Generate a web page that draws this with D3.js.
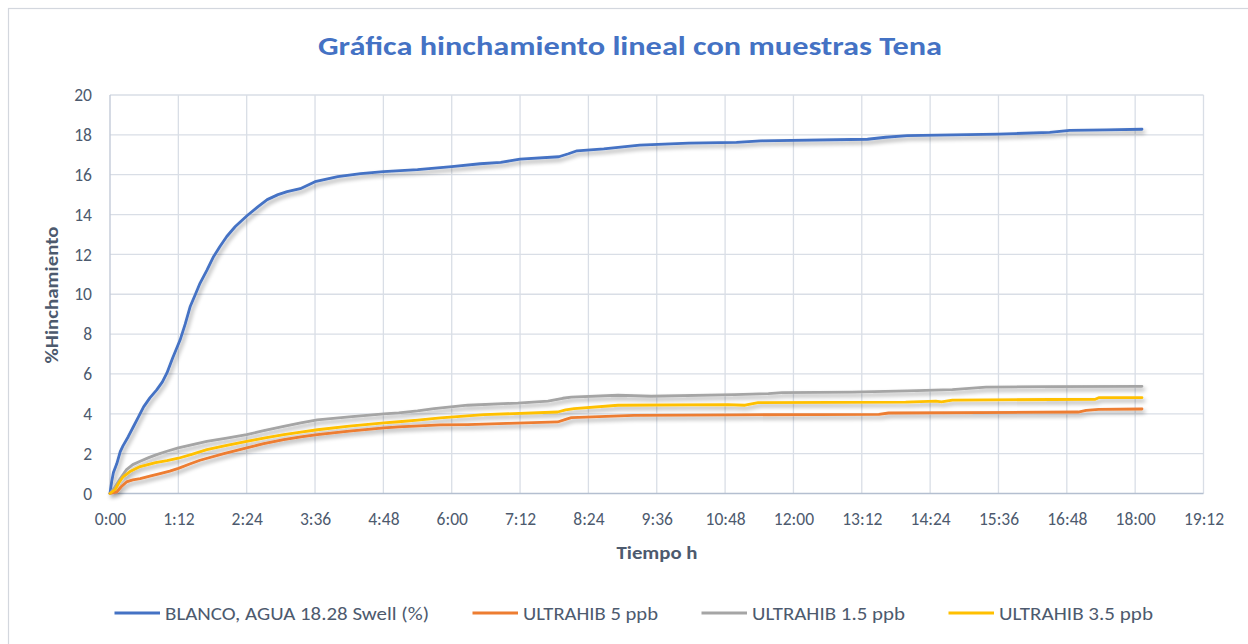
<!DOCTYPE html>
<html>
<head>
<meta charset="utf-8">
<script src="https://cdn.jsdelivr.net/npm/d3@7"></script>
<style>
  html, body { margin: 0; padding: 0; background: #fff; }
  svg { display: block; font-family: Carlito, Lato, "Open Sans", sans-serif; }
</style>
</head>
<body>
<svg id="chart" width="1248" height="644"></svg>
<script>
// Swelling test, Tena samples: elapsed hours vs. linear swell (%)
const seriesNames = ["BLANCO, AGUA 18.28 Swell (%)", "ULTRAHIB 5 ppb", "ULTRAHIB 1.5 ppb", "ULTRAHIB 3.5 ppb"];
const seriesColors = ["#4472C4", "#ED7D31", "#A5A5A5", "#FFC000"];

const hoursBlanco = [0, 0.03, 0.06, 0.12, 0.18, 0.23, 0.32, 0.41, 0.5, 0.59, 0.7, 0.82, 0.92, 1.0, 1.1, 1.23, 1.32, 1.41, 1.5, 1.58, 1.7, 1.82, 1.93, 2.05, 2.2, 2.41, 2.6, 2.76, 2.95, 3.11, 3.34, 3.6, 4.0, 4.4, 4.8, 5.4, 6.0, 6.5, 6.86, 7.2, 7.88, 8.05, 8.2, 8.67, 9.3, 10.16, 11.0, 11.42, 13.3, 13.62, 14.0, 15.59, 16.5, 16.85, 17.5, 18.12];
const swellBlanco = [0, 0.6, 1.05, 1.5, 2.1, 2.4, 2.85, 3.35, 3.85, 4.35, 4.8, 5.2, 5.6, 6.05, 6.8, 7.7, 8.5, 9.4, 10.0, 10.55, 11.2, 11.9, 12.4, 12.9, 13.4, 13.95, 14.4, 14.75, 15.0, 15.15, 15.3, 15.65, 15.9, 16.05, 16.15, 16.25, 16.4, 16.55, 16.62, 16.78, 16.9, 17.05, 17.2, 17.3, 17.48, 17.58, 17.62, 17.7, 17.78, 17.88, 17.96, 18.04, 18.12, 18.22, 18.25, 18.28];

const hours5ppb = [0, 0.12, 0.2, 0.29, 0.4, 0.53, 0.7, 0.88, 1.05, 1.2, 1.4, 1.58, 2.0, 2.4, 2.7, 3.05, 3.35, 3.64, 4.2, 4.81, 5.07, 5.8, 6.28, 7.86, 8.0, 8.1, 9.2, 11.0, 13.5, 13.67, 17.0, 17.14, 17.36, 18.12];
const swell5ppb = [0, 0.08, 0.35, 0.58, 0.68, 0.75, 0.87, 1.0, 1.12, 1.26, 1.48, 1.67, 2.0, 2.29, 2.5, 2.7, 2.84, 2.96, 3.13, 3.29, 3.34, 3.44, 3.46, 3.59, 3.72, 3.81, 3.92, 3.95, 3.97, 4.04, 4.09, 4.17, 4.22, 4.24];

const hours15ppb = [0, 0.08, 0.18, 0.29, 0.4, 0.53, 0.68, 0.82, 1.0, 1.2, 1.45, 1.7, 2.05, 2.4, 2.7, 3.05, 3.35, 3.64, 4.2, 4.81, 5.07, 5.4, 5.69, 6.28, 7.16, 7.69, 7.95, 8.1, 8.92, 9.5, 10.97, 11.56, 11.8, 13.03, 14.0, 14.79, 15.38, 16.5, 18.12];
const swell15ppb = [0, 0.3, 0.75, 1.2, 1.45, 1.62, 1.8, 1.95, 2.12, 2.29, 2.45, 2.62, 2.78, 2.96, 3.15, 3.37, 3.55, 3.7, 3.85, 4.0, 4.05, 4.15, 4.26, 4.43, 4.54, 4.64, 4.78, 4.84, 4.93, 4.88, 4.96, 5.01, 5.06, 5.09, 5.15, 5.21, 5.34, 5.36, 5.38];

const hours35ppb = [0, 0.09, 0.16, 0.23, 0.35, 0.53, 0.8, 1.0, 1.2, 1.45, 1.7, 2.05, 2.4, 2.7, 3.05, 3.35, 3.64, 4.2, 4.81, 5.07, 5.4, 5.8, 6.57, 7.86, 8.0, 8.15, 8.92, 10.85, 11.15, 11.38, 13.97, 14.5, 14.6, 14.79, 17.3, 17.36, 18.12];
const swell35ppb = [0, 0.2, 0.55, 0.84, 1.1, 1.35, 1.55, 1.65, 1.77, 1.98, 2.2, 2.42, 2.62, 2.78, 2.96, 3.08, 3.2, 3.38, 3.54, 3.6, 3.68, 3.8, 3.96, 4.09, 4.2, 4.26, 4.43, 4.46, 4.43, 4.56, 4.59, 4.64, 4.6, 4.69, 4.73, 4.81, 4.81];

const xTickHours = [0, 1.2, 2.4, 3.6, 4.8, 6.0, 7.2, 8.4, 9.6, 10.8, 12.0, 13.2, 14.4, 15.6, 16.8, 18.0, 19.2];
const xTickLabels = ["0:00", "1:12", "2:24", "3:36", "4:48", "6:00", "7:12", "8:24", "9:36", "10:48", "12:00", "13:12", "14:24", "15:36", "16:48", "18:00", "19:12"];
const yTicks = [0, 2, 4, 6, 8, 10, 12, 14, 16, 18, 20];

const titleText = "Gráfica hinchamiento lineal con muestras Tena";
const xTitle = "Tiempo h";
const yTitle = "%Hinchamiento";

// ---- drawing ----
const svg = d3.select("#chart");
const W = 1248, H = 644;
const plot = { left: 110, right: 1203.5, top: 95, bottom: 493.5 };
const textColor = "#4D5A6E";

const series = [
  { name: seriesNames[0], color: seriesColors[0], xs: hoursBlanco, ys: swellBlanco },
  { name: seriesNames[1], color: seriesColors[1], xs: hours5ppb, ys: swell5ppb },
  { name: seriesNames[2], color: seriesColors[2], xs: hours15ppb, ys: swell15ppb },
  { name: seriesNames[3], color: seriesColors[3], xs: hours35ppb, ys: swell35ppb }
];

const x = d3.scaleLinear().domain([0, 19.2]).range([plot.left, plot.right]);
const y = d3.scaleLinear().domain([0, 20]).range([plot.bottom, plot.top]);

// soft drop shadow under the data lines
const defs = svg.append("defs");
const f = defs.append("filter").attr("id", "lineShadow")
  .attr("x", "-5%").attr("y", "-20%").attr("width", "110%").attr("height", "140%");
f.append("feGaussianBlur").attr("in", "SourceAlpha").attr("stdDeviation", 2).attr("result", "blur");
f.append("feOffset").attr("in", "blur").attr("dx", 1.5).attr("dy", 3).attr("result", "off");
f.append("feComponentTransfer").attr("in", "off").attr("result", "shadow")
  .append("feFuncA").attr("type", "linear").attr("slope", 0.35);
const merge = f.append("feMerge");
merge.append("feMergeNode").attr("in", "shadow");
merge.append("feMergeNode").attr("in", "SourceGraphic");

// chart frame
svg.append("rect")
  .attr("x", 8.5).attr("y", 8.5).attr("width", W).attr("height", H)
  .attr("fill", "#fff").attr("stroke", "#D3D7DE").attr("stroke-width", 1.2);

// title
svg.append("text")
  .attr("x", 318).attr("y", 55)
  .attr("textLength", 624).attr("lengthAdjust", "spacingAndGlyphs")
  .attr("font-size", 27).attr("font-weight", "bold").attr("fill", "#4472C4")
  .text(titleText);

// horizontal gridlines
svg.append("g").selectAll("line").data(yTicks.filter(d => d > 0)).join("line")
  .attr("x1", plot.left).attr("x2", plot.right)
  .attr("y1", d => y(d)).attr("y2", d => y(d))
  .attr("stroke", "#D9DEE6").attr("stroke-width", 1.3);

// vertical gridlines
svg.append("g").selectAll("line").data(xTickHours.filter(d => d > 0)).join("line")
  .attr("x1", d => x(d)).attr("x2", d => x(d))
  .attr("y1", plot.top).attr("y2", plot.bottom)
  .attr("stroke", "#D9DEE6").attr("stroke-width", 1.3);

// axes lines
svg.append("line").attr("x1", plot.left).attr("x2", plot.left)
  .attr("y1", plot.top).attr("y2", plot.bottom)
  .attr("stroke", "#C3CBD8").attr("stroke-width", 1.4);
svg.append("line").attr("x1", plot.left).attr("x2", plot.right)
  .attr("y1", plot.bottom).attr("y2", plot.bottom)
  .attr("stroke", "#B4BFD0").attr("stroke-width", 1.6);

// y tick labels
const yAxis = d3.axisLeft(y).tickValues(yTicks).tickSize(0).tickPadding(18);
const gy = svg.append("g").attr("transform", `translate(${plot.left},0)`).call(yAxis);
gy.select(".domain").remove();
gy.selectAll("text").attr("font-size", 17.5).attr("fill", textColor)
  .attr("font-family", "Carlito, Lato, sans-serif");

// x tick labels
const xAxis = d3.axisBottom(x).tickValues(xTickHours)
  .tickFormat((d, i) => xTickLabels[i]).tickSize(0).tickPadding(19);
const gx = svg.append("g").attr("transform", `translate(0,${plot.bottom})`).call(xAxis);
gx.select(".domain").remove();
gx.selectAll("text").attr("font-size", 17.5).attr("fill", textColor)
  .attr("font-family", "Carlito, Lato, sans-serif");

// axis titles
svg.append("text")
  .attr("x", 657).attr("y", 559).attr("text-anchor", "middle")
  .attr("textLength", 81).attr("lengthAdjust", "spacingAndGlyphs")
  .attr("font-size", 18).attr("font-weight", "bold").attr("fill", textColor)
  .text(xTitle);
svg.append("text")
  .attr("transform", "translate(58,295) rotate(-90)")
  .attr("text-anchor", "middle")
  .attr("textLength", 137).attr("lengthAdjust", "spacingAndGlyphs")
  .attr("font-size", 18).attr("font-weight", "bold").attr("fill", textColor)
  .text(yTitle);

// data lines
const line = d3.line().x(d => x(d[0])).y(d => y(d[1]));
svg.append("g").attr("filter", "url(#lineShadow)")
  .selectAll("path").data(series).join("path")
  .attr("d", s => line(s.xs.map((h, i) => [h, s.ys[i]])))
  .attr("fill", "none")
  .attr("stroke", s => s.color)
  .attr("stroke-width", 2.8)
  .attr("stroke-linejoin", "round")
  .attr("stroke-linecap", "round");

// legend
const legendWidths = [264, 135, 153, 154];
const legendY = 613;
let lx = 114.5;
const lg = svg.append("g");
series.forEach((s, i) => {
  lg.append("line").attr("x1", lx).attr("x2", lx + 45.5)
    .attr("y1", legendY).attr("y2", legendY)
    .attr("stroke", s.color).attr("stroke-width", 2.8);
  lg.append("text").attr("x", lx + 50.5).attr("y", legendY + 6.5)
    .attr("textLength", legendWidths[i]).attr("lengthAdjust", "spacingAndGlyphs")
    .attr("font-size", 17.5).attr("fill", textColor)
    .text(s.name);
  lx += 50.5 + legendWidths[i] + 43.5;
});
</script>
</body>
</html>
